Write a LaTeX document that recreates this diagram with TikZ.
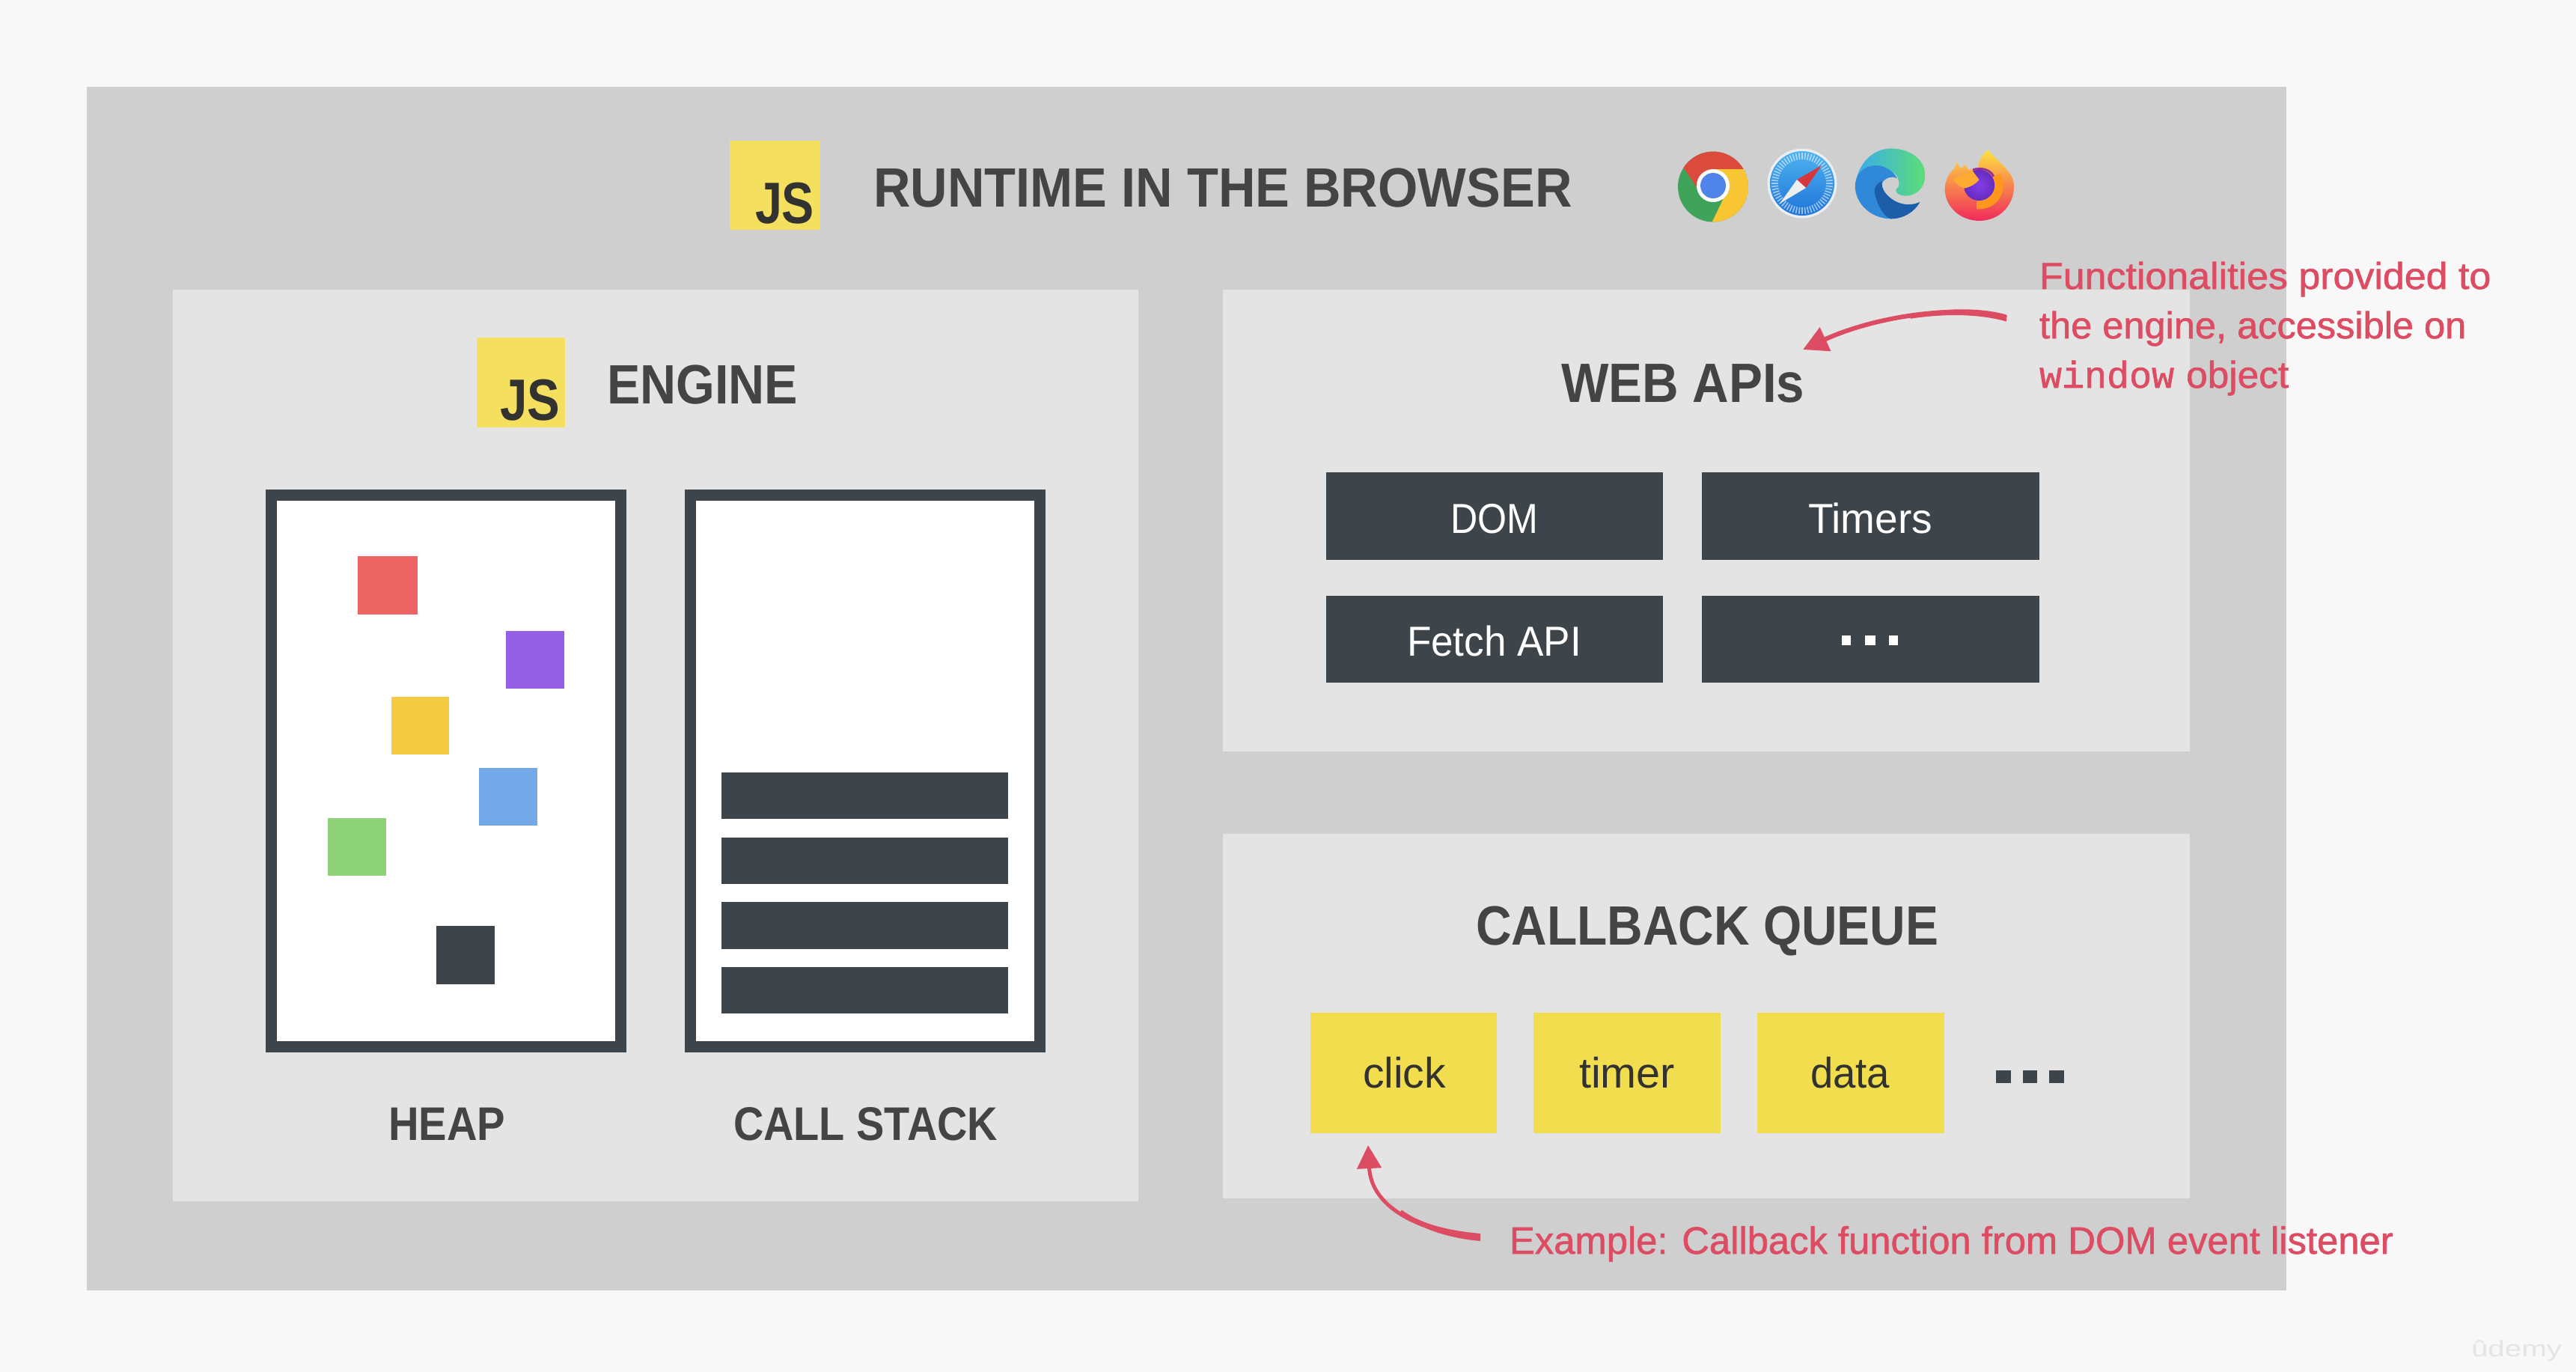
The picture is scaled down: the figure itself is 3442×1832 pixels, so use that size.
\documentclass[tikz,border=0pt]{standalone}
\usepackage{fontspec}
\usepackage{graphicx}
\usetikzlibrary{arrows.meta}
\setmainfont{Liberation Sans}
\setmonofont{Liberation Mono}
\newfontfamily\notefont{Liberation Sans}[FakeBold=1.2]
\newfontfamily\notemono{Liberation Mono}[FakeBold=1.2]
\newdimen\px \px=0.28453pt
\definecolor{pagebg}{HTML}{F8F8F8}
\definecolor{outerbg}{HTML}{CFCFCF}
\definecolor{panelbg}{HTML}{E4E4E4}
\definecolor{ink}{HTML}{3D444A}
\definecolor{heading}{HTML}{444444}
\definecolor{jsyellow}{HTML}{F5DF5E}
\definecolor{queueyellow}{HTML}{F1DD4D}
\definecolor{jsink}{HTML}{323330}
\definecolor{note}{HTML}{DC4C62}
\definecolor{sqred}{HTML}{EC6464}
\definecolor{sqpurple}{HTML}{9660E6}
\definecolor{sqyellow}{HTML}{F5CB42}
\definecolor{sqblue}{HTML}{75A8E8}
\definecolor{sqgreen}{HTML}{8DD179}
\newcommand\fittext[3]{\resizebox{\fpeval{#1*0.28453}pt}{\height}{\fontsize{\fpeval{#2*0.28453}pt}{\fpeval{#2*0.34}pt}\selectfont #3}}
% style, name, x1, y1, x2, y2
\newcommand\bx[6]{\node[plain,#1,anchor=north west,minimum width=\fpeval{(#5-#3)*0.01}cm,minimum height=\fpeval{(#6-#4)*0.01}cm] (#2) at (#3,#4) {};}
% style, name, x, baseline, width, size, text
\newcommand\lb[7]{\node[txt,#1] (#2) at (#3,#4) {\fittext{#5}{#6}{#7}};}
\tikzset{
  plain/.style={rectangle,inner sep=0pt,outer sep=0pt,draw=none},
  txt/.style={inner sep=0pt,outer sep=0pt,anchor=base west},
  head/.style={text=heading,font=\bfseries},
  whitetext/.style={text=white},
  notetext/.style={text=note},
  darktext/.style={text=jsink},
  frame/.style={plain,fill=white,draw=ink,line width=15\px},
  inkbox/.style={fill=ink},
  notearrow/.style={draw=note,line cap=butt}
}
\begin{document}
\begin{tikzpicture}[x=0.01cm,y=-0.01cm]
\useasboundingbox (0,0) rectangle (3442,1832);
\bx{fill=pagebg}{page}{0}{0}{3442}{1832}
\bx{fill=outerbg}{runtime}{116}{116}{3053}{1723}
\bx{fill=panelbg}{engine}{231}{387}{1520}{1604}
\bx{fill=panelbg}{webapis}{1634}{387}{2925}{1004}
\bx{fill=panelbg}{queue}{1634}{1114}{2925}{1601}
% title row
\bx{fill=jsyellow}{jstop}{975}{188}{1096}{307}
\lb{darktext,font=\bfseries}{jstoptext}{1009}{298}{79}{78}{JS}
\lb{head}{title}{1167}{276}{933}{74}{RUNTIME IN THE BROWSER}
% chrome
\begin{scope}
\clip (2289,249.5) circle (47);
\fill[color={rgb,255:red,63;green,164;blue,90}] (2289,249.5) circle (47);
\fill[color={rgb,255:red,219;green,74;blue,60}] (2345,226) -- (2289,226) -- (2267,250) -- (2250,225) -- (2235,200) -- (2235,190) -- (2345,190) -- cycle;
\fill[color={rgb,255:red,248;green,198;blue,50}] (2345,226) -- (2289,226) -- (2302,267) -- (2286,300) -- (2345,300) -- cycle;
\end{scope}
\fill[white] (2289,248) circle (22);
\fill[color={rgb,255:red,79;green,132;blue,232}] (2289,248) circle (17);
% safari
\fill[color={rgb,255:red,232;green,238;blue,244}] (2408,245) circle (46.5);
\shade[top color={rgb,255:red,78;green,178;blue,240},bottom color={rgb,255:red,30;green,116;blue,216}] (2408,245) circle (43);
\foreach \a in {0,6,...,354}{\draw[white,opacity=.55,line width=1.6\px] ({2408+32*cos(\a)},{245+32*sin(\a)}) -- ({2408+41*cos(\a)},{245+41*sin(\a)});}
\fill[color={rgb,255:red,214;green,54;blue,60}] (2434,221) -- (2401,240) -- (2413,251) -- cycle;
\fill[color={rgb,255:red,238;green,238;blue,240}] (2378,272) -- (2401,240) -- (2413,251) -- cycle;
% edge
\begin{scope}[x=0.003333cm,y=-0.003333cm,shift={(24.70cm,-1.85cm)}]
\shade[left color={rgb,255:red,58;green,172;blue,236},right color={rgb,255:red,92;green,222;blue,118}]
 (24,175) .. controls (40,90) and (100,40) .. (165,40) .. controls (250,40) and (305,90) .. (303,150) .. controls (302,200) and (265,230) .. (225,230) .. controls (205,230) and (186,222) .. (186,208) .. controls (186,200) and (200,195) .. (198,185) .. controls (200,165) and (190,135) .. (150,125) -- cycle;
\fill[color={rgb,255:red,47;green,136;blue,216}] (190,160) .. controls (175,125) and (130,105) .. (100,108) .. controls (55,112) and (25,140) .. (22,190) .. controls (22,265) and (90,322) .. (165,322) .. controls (215,322) and (260,295) .. (282,255) .. controls (255,268) and (215,270) .. (180,250) .. controls (150,232) and (125,205) .. (130,180) .. controls (140,158) and (170,148) .. (190,160) -- cycle;
\fill[color={rgb,255:red,28;green,95;blue,168}] (130,170) .. controls (110,180) and (98,195) .. (100,215) .. controls (105,250) and (130,310) .. (165,322) .. controls (215,322) and (260,295) .. (282,255) .. controls (255,268) and (215,270) .. (180,250) .. controls (150,232) and (125,205) .. (130,170) -- cycle;
% firefox
\shade[shading angle=-45,bottom color={rgb,255:red,240;green,42;blue,90},middle color={rgb,255:red,255;green,128;blue,32},top color={rgb,255:red,255;green,226;blue,64}]
 (430,95) -- (420,122) .. controls (400,135) and (382,170) .. (382,205) .. controls (385,280) and (450,330) .. (520,330) .. controls (600,330) and (660,270) .. (660,190) .. controls (658,130) and (600,100) .. (555,45) .. controls (530,70) and (510,100) .. (520,120) -- (475,125) -- (465,105) -- (445,120) -- cycle;
\draw[line width=14\px,color={rgb,255:red,255;green,150;blue,30}] (585,150) .. controls (615,200) and (580,268) .. (510,262);
\shade[inner color={rgb,255:red,134;green,60;blue,232},outer color={rgb,255:red,100;green,44;blue,190}] (520,187) circle (62);
\draw[line width=3\px,color={rgb,255:red,150;green,50;blue,150}] (495,125) .. controls (530,115) and (565,125) .. (578,152);
\fill[color={rgb,255:red,255;green,170;blue,48}] (415,160) .. controls (450,150) and (480,140) .. (490,125) .. controls (505,145) and (520,165) .. (520,165) .. controls (505,185) and (480,195) .. (460,200) .. controls (435,190) and (420,175) .. (415,160) -- cycle;
\end{scope}
% engine
\bx{fill=jsyellow}{jsengine}{637}{451}{755}{571}
\lb{darktext,font=\bfseries}{jsenginetext}{668}{561}{80}{78}{JS}
\lb{head}{enginelabel}{811}{539}{255}{74}{ENGINE}
\bx{frame}{heap}{362.5}{661.5}{829.5}{1398.5}
\bx{frame}{stack}{922.5}{661.5}{1389.5}{1398.5}
\bx{fill=sqred}{obja}{478}{743}{558}{821}
\bx{fill=sqpurple}{objb}{676}{843}{754}{920}
\bx{fill=sqyellow}{objc}{523}{931}{600}{1008}
\bx{fill=sqblue}{objd}{640}{1026}{718}{1103}
\bx{fill=sqgreen}{obje}{438}{1093}{516}{1170}
\bx{inkbox}{objf}{583}{1237}{661}{1315}
\bx{inkbox}{fra}{964}{1032}{1347}{1094}
\bx{inkbox}{frb}{964}{1119}{1347}{1181}
\bx{inkbox}{frc}{964}{1205}{1347}{1268}
\bx{inkbox}{frd}{964}{1292}{1347}{1354}
\lb{head}{heaplabel}{519}{1523}{156}{63}{HEAP}
\lb{head}{stacklabel}{980}{1523}{353}{63}{CALL STACK}
% web apis
\lb{head}{webtitle}{2086}{537}{325}{74}{WEB APIs}
\bx{inkbox}{dom}{1772}{631}{2222}{748}
\bx{inkbox}{timers}{2274}{631}{2725}{748}
\bx{inkbox}{fetch}{1772}{796}{2222}{912}
\bx{inkbox}{more}{2274}{796}{2725}{912}
\lb{whitetext}{domt}{1938}{712}{117}{56}{DOM}
\lb{whitetext}{timerst}{2416}{712}{166}{56}{Timers}
\lb{whitetext}{fetcht}{1880}{876}{233}{56}{Fetch API}
\bx{fill=white}{mda}{2461}{849}{2473}{862}
\bx{fill=white}{mdb}{2492}{849}{2506}{862}
\bx{fill=white}{mdc}{2524}{849}{2536}{862}
% callback queue
\lb{head}{queuetitle}{1972}{1262}{618}{74}{CALLBACK QUEUE}
\bx{fill=queueyellow}{click}{1751}{1353}{2000}{1514}
\bx{fill=queueyellow}{timer}{2049}{1353}{2299}{1514}
\bx{fill=queueyellow}{data}{2348}{1353}{2598}{1514}
\lb{darktext}{clickt}{1821}{1453}{111}{57}{click}
\lb{darktext}{timert}{2110}{1453}{128}{57}{timer}
\lb{darktext}{datat}{2419}{1453}{106}{57}{data}
\bx{inkbox}{qda}{2667}{1430}{2687}{1447}
\bx{inkbox}{qdb}{2703}{1430}{2722}{1447}
\bx{inkbox}{qdc}{2738}{1430}{2758}{1447}
% notes
\lb{notetext}{notea}{2725}{386}{603}{50}{\notefont Functionalities provided to}
\lb{notetext}{noteb}{2725}{452}{570}{50}{\notefont the engine, accessible on}
\node[txt,notetext] (notec) at (2725,518) {\fittext{180}{50}{\notemono window}\hspace{16\px}\fittext{137}{50}{\notefont object}};
\lb{notetext}{noted}{2017}{1675}{1180}{51}{\notefont Example: Callback function from DOM event listener}
\coordinate (taila) at (2681,425);
\coordinate (tipa) at (2409,467);
\coordinate (tailb) at (1978,1653);
\coordinate (tipb) at (1828,1530);
\fill[note] (2681,420.5) .. controls (2645.5,410.5) and (2600.25,411.5) .. (2552.5,419.75) -- (2552.5,425.75) .. controls (2600.25,418.5) and (2645.5,419.5) .. (2681,429.5) -- cycle;
\fill[note] (1978,1648) .. controls (1935,1644.1) and (1898.9,1635.6) .. (1873,1616.5) -- (1870,1620.5) .. controls (1896.1,1640.9) and (1933,1653.9) .. (1978,1658) -- cycle;
\draw[notearrow,line width=6\px,-{Triangle[length=9.4pt,width=9.6pt]}] (taila) .. controls (2610,405) and (2500,425) .. (tipa);
\draw[notearrow,line width=5\px,-{Triangle[length=8.82pt,width=9.1pt]}] (tailb) .. controls (1890,1645) and (1832,1610) .. (tipb);
% watermark
\node[txt,text=panelbg] (mark) at (3302,1812) {\fittext{121}{30}{ûdemy}};
\end{tikzpicture}
\end{document}
